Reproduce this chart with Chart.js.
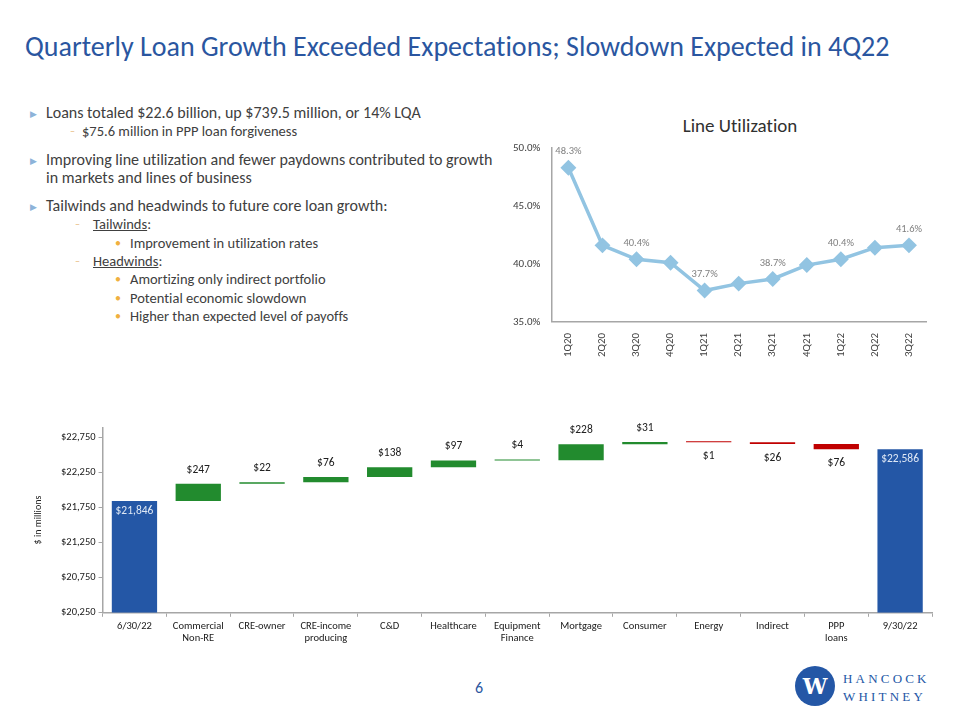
<!DOCTYPE html>
<html>
<head>
<meta charset="utf-8">
<script src="https://cdn.jsdelivr.net/npm/chart.js@4/dist/chart.umd.min.js"></script>
<style>
  body { margin: 0; width: 960px; height: 720px; background: #fff; font-family: Carlito, Lato, sans-serif; font-variant-ligatures: none; position: relative; overflow: hidden; }
  h1 { position: absolute; left: 25px; top: 29px; margin: 0; font-weight: normal; font-size: 28px; color: #2a56a0; white-space: nowrap; }
  .bul { position: absolute; left: 30px; top: 104px; width: 470px; color: #404040; font-size: 16px; }
  .bul p { margin: 0; position: relative; line-height: 18.3px; }
  .l1 { padding-left: 16px; }
  .l1:before { content: "\25B6"; color: #8db3d9; font-size: 9px; position: absolute; left: 0; top: 1px; }
  .l2 { padding-left: 63px; font-size: 14.5px; }
  .l2:before { content: "\2013"; color: #e6b87a; font-size: 10px; position: absolute; left: 45px; top: 0; }
  .l2.first { padding-left: 52px; }
  .l2.first:before { left: 40px; }
  .l3 { padding-left: 100px; font-size: 14.5px; }
  .l3:before { content: "\2022"; color: #f0b040; font-size: 12px; position: absolute; left: 85px; top: 0; }
  .gap { height: 10px; }
  #lineWrap { position: absolute; left: 498px; top: 110px; width: 440px; height: 250px; }
  .lineTitle { position: absolute; left: 640px; width: 200px; top: 114px; text-align: center; font-size: 19px; color: #303030; }
  #wfWrap { position: absolute; left: 20px; top: 418px; width: 920px; height: 230px; }
  .pg { position: absolute; left: 475px; top: 678px; color: #2a56a0; font-size: 16px; }
  .logo { position: absolute; left: 795px; top: 666px; width: 40px; height: 40px; border-radius: 50%; background: #2457a6; color: #fff; font: bold 22px "DejaVu Serif", serif; text-align: center; line-height: 40px; }
  .brand { position: absolute; left: 843px; top: 670px; color: #2457a6; font: 13px "Liberation Serif", serif; letter-spacing: 3.2px; line-height: 18px; }
</style>
</head>
<body>
<h1>Quarterly Loan Growth Exceeded Expectations; Slowdown Expected in 4Q22</h1>
<div class="bul">
  <p class="l1">Loans totaled $22.6 billion, up $739.5 million, or 14% LQA</p>
  <p class="l2 first">$75.6 million in PPP loan forgiveness</p>
  <div class="gap"></div>
  <p class="l1">Improving line utilization and fewer paydowns contributed to growth in markets and lines of business</p>
  <div class="gap"></div>
  <p class="l1">Tailwinds and headwinds to future core loan growth:</p>
  <p class="l2"><u>Tailwinds</u>:</p>
  <p class="l3">Improvement in utilization rates</p>
  <p class="l2"><u>Headwinds</u>:</p>
  <p class="l3">Amortizing only indirect portfolio</p>
  <p class="l3">Potential economic slowdown</p>
  <p class="l3">Higher than expected level of payoffs</p>
</div>
<div class="lineTitle">Line Utilization</div>
<div id="lineWrap"><canvas id="lineChart"></canvas></div>
<div id="wfWrap"><canvas id="wfChart"></canvas></div>
<div class="pg">6</div>
<div class="logo">W</div>
<div class="brand">HANCOCK<br>WHITNEY</div>
<script>
// line utilization data
const quarters = ['1Q20', '2Q20', '3Q20', '4Q20', '1Q21', '2Q21', '3Q21', '4Q21', '1Q22', '2Q22', '3Q22'];
const utilization = [48.3, 41.6, 40.4, 40.1, 37.7, 38.3, 38.7, 39.9, 40.4, 41.4, 41.6];
const labeledQuarters = ['1Q20', '3Q20', '1Q21', '3Q21', '1Q22', '3Q22'];
const utilTicks = [35, 40, 45, 50];

// loan waterfall data ($ in millions)
const wfCategories = [['6/30/22'], ['Commercial', 'Non-RE'], ['CRE-owner'], ['CRE-income', 'producing'], ['C&D'], ['Healthcare'],
  ['Equipment', 'Finance'], ['Mortgage'], ['Consumer'], ['Energy'], ['Indirect'], ['PPP', 'loans'], ['9/30/22']];
const startBalance = 21846;
const changes = [247, 22, 76, 138, 97, 4, 228, 31, -1, -26, -76];
const endBalance = 22586;
const wfTicks = [20250, 20750, 21250, 21750, 22250, 22750];

const FONT = 'Carlito, Lato, sans-serif';
Chart.defaults.font.family = FONT;
Chart.defaults.color = '#404040';

const pointLabels = {
  id: 'pointLabels',
  afterDatasetsDraw(chart) {
    const ctx = chart.ctx;
    const meta = chart.getDatasetMeta(0);
    ctx.save();
    ctx.font = '10.5px ' + FONT;
    ctx.fillStyle = '#808080';
    ctx.textAlign = 'center';
    ctx.textBaseline = 'middle';
    meta.data.forEach((pt, i) => {
      if (!labeledQuarters.includes(quarters[i])) return;
      ctx.fillText(utilization[i].toFixed(1) + '%', pt.x, pt.y - 16);
    });
    ctx.restore();
  }
};

new Chart(document.getElementById('lineChart'), {
  type: 'line',
  data: {
    labels: quarters,
    datasets: [{
      data: utilization,
      borderColor: '#92c4e2',
      backgroundColor: '#92c4e2',
      borderWidth: 3.5,
      pointStyle: 'rectRot',
      pointRadius: 5.5,
      tension: 0
    }]
  },
  options: {
    responsive: true,
    maintainAspectRatio: false,
    animation: false,
    layout: { padding: { left: 12, right: 12, top: 38, bottom: 0 } },
    plugins: {
      legend: { display: false },
      tooltip: { enabled: false },
      title: { display: false }
    },
    scales: {
      x: {
        offset: true,
        grid: { display: false },
        border: { color: '#a6a6a6', width: 1.5 },
        ticks: { minRotation: 90, maxRotation: 90, font: { size: 11 }, color: '#404040' }
      },
      y: {
        min: 35, max: 50,
        afterBuildTicks: s => { s.ticks = utilTicks.map(v => ({ value: v })); },
        grid: { display: false },
        border: { color: '#a6a6a6', width: 1.5 },
        ticks: { callback: v => v.toFixed(1) + '%', font: { size: 11 }, color: '#404040' }
      }
    }
  },
  plugins: [pointLabels]
});

// build floating bars for the waterfall
const wfBars = [[20250, startBalance]];
const wfColors = ['#2457a6'];
let running = startBalance;
changes.forEach(c => {
  wfBars.push([running, running + c]);
  wfColors.push(c >= 0 ? '#228b2e' : '#c00000');
  running += c;
});
wfBars.push([20250, endBalance]);
wfColors.push('#2457a6');
const wfLabelText = ['$21,846'].concat(changes.map(c => '$' + Math.abs(c)), ['$22,586']);

const barLabels = {
  id: 'barLabels',
  afterDatasetsDraw(chart) {
    const ctx = chart.ctx;
    const meta = chart.getDatasetMeta(0);
    ctx.save();
    ctx.font = '11.5px ' + FONT;
    ctx.textAlign = 'center';
    ctx.textBaseline = 'middle';
    meta.data.forEach((bar, i) => {
      const top = Math.min(bar.y, bar.base);
      const bottom = Math.max(bar.y, bar.base);
      if (i === 0 || i === meta.data.length - 1) {
        ctx.fillStyle = '#dfe8f5';
        ctx.fillText(wfLabelText[i], bar.x, top + 10);
      } else if (changes[i - 1] >= 0) {
        ctx.fillStyle = '#202020';
        ctx.fillText(wfLabelText[i], bar.x, top - 14);
      } else {
        ctx.fillStyle = '#202020';
        ctx.fillText(wfLabelText[i], bar.x, bottom + 14);
      }
    });
    ctx.restore();
  }
};

new Chart(document.getElementById('wfChart'), {
  type: 'bar',
  data: {
    labels: wfCategories,
    datasets: [{
      data: wfBars,
      backgroundColor: wfColors,
      categoryPercentage: 1,
      barPercentage: 0.71,
      minBarLength: 1
    }]
  },
  options: {
    responsive: true,
    maintainAspectRatio: false,
    animation: false,
    layout: { padding: { left: 8, right: 8, top: 6, bottom: 0 } },
    plugins: { legend: { display: false }, tooltip: { enabled: false } },
    scales: {
      x: {
        grid: { drawOnChartArea: false, drawTicks: true, tickLength: 4, color: '#a6a6a6', offset: true },
        border: { color: '#a6a6a6', width: 1.5 },
        ticks: { font: { size: 10.5 }, color: '#202020', maxRotation: 0, autoSkip: false }
      },
      y: {
        min: 20250, max: 22900,
        afterBuildTicks: s => { s.ticks = wfTicks.map(v => ({ value: v })); },
        grid: { drawOnChartArea: false, tickLength: 4, color: '#a6a6a6' },
        border: { color: '#a6a6a6', width: 1.5 },
        title: { display: true, text: '$ in millions', font: { size: 10 }, color: '#202020', padding: { bottom: 14 } },
        ticks: { callback: v => '$' + v.toLocaleString('en-US'), font: { size: 10.5 }, color: '#202020' }
      }
    }
  },
  plugins: [barLabels]
});
</script>
</body>
</html>
